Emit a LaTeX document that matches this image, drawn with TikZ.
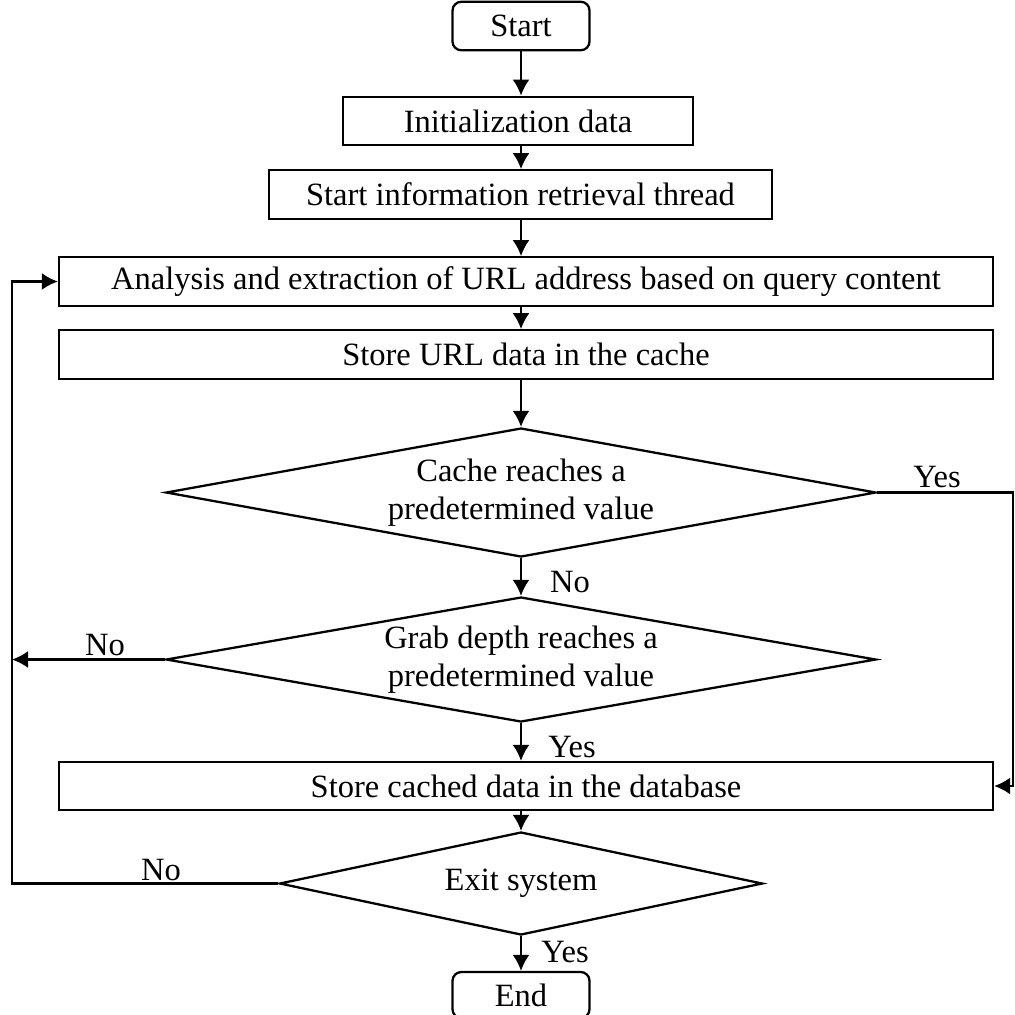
\documentclass[tikz,border=0pt]{standalone}
\usepackage{fontspec}
\setmainfont{Liberation Serif}
\usetikzlibrary{shapes.geometric,arrows.meta,positioning}

\begin{document}
\begin{tikzpicture}[line width=1.3pt,
    font=\fontsize{18.5}{22}\selectfont,
    >={Latex[length=3.2mm,width=3.4mm]},
    box/.style={draw,rectangle,inner sep=0pt,minimum height=0.97cm},
    term/.style={box,rounded corners=5pt,minimum width=2.74cm},
    decide/.style={draw,diamond,aspect=5.5,inner sep=0pt,align=center},
    lbl/.style={inner sep=0pt}]

\useasboundingbox (0,0) rectangle (20.30,-20.28);

% process boxes
\node[term] (start) at (10.42,-0.52) {Start};
\node[box,minimum width=7.00cm] (init) at (10.36,-2.42) {Initialization data};
\node[box,minimum width=10.06cm] (thread) at (10.41,-3.89) {Start information retrieval thread};
\node[box,minimum width=18.68cm] (analysis) at (10.52,-5.63) {Analysis and extraction of URL address based on query content};
\node[box,minimum width=18.68cm] (storeurl) at (10.52,-7.09) {Store URL data in the cache};

% decisions
\node[decide,minimum width=14.20cm,minimum height=2.58cm] (cache) at (10.42,-9.85)
  {Cache reaches a\\predetermined value};
\node[decide,minimum width=14.20cm,minimum height=2.50cm] (depth) at (10.42,-13.19)
  {Grab depth reaches a\\predetermined value};
\node[box,minimum width=18.68cm,minimum height=0.96cm] (storedb) at (10.52,-15.72) {Store cached data in the database};
\node[decide,aspect=4.7,minimum width=9.66cm,minimum height=2.06cm] (quit) at (10.42,-17.67) {Exit system};
\node[term,minimum height=0.92cm] (finish) at (10.42,-19.90) {End};

% side rails
\coordinate (lft) at (0.24,0);
\coordinate (rgt) at (20.26,0);

% main flow
\draw[->] (start.south) -- (start.south |- init.north);
\draw[->] (start.south |- init.south) -- (start.south |- thread.north);
\draw[->] (start.south |- thread.south) -- (start.south |- analysis.north);
\draw[->] (start.south |- analysis.south) -- (start.south |- storeurl.north);
\draw[->] (start.south |- storeurl.south) -- (cache.north);
\draw[->] (cache.south) -- (depth.north);
\draw[->] (depth.south) -- (depth.south |- storedb.north);
\draw[->] (depth.south |- storedb.south) -- (quit.north);
\draw[->] (quit.south) -- (finish.north);

% loops
\draw[->] (cache.east) -- (cache.east -| rgt) |- (storedb.east);
\draw[->] (depth.west) -- (depth.west -| lft);
\draw[->] (quit.west) -- (quit.west -| lft) |- (analysis.west);

% branch labels
\node[lbl] (yes1) at (18.74,-9.54) {Yes};
\node[lbl] (no1) at (11.40,-11.64) {No};
\node[lbl] (no2) at (2.10,-12.90) {No};
\node[lbl] (yes2) at (11.44,-14.94) {Yes};
\node[lbl] (no3) at (3.22,-17.40) {No};
\node[lbl] (yes3) at (11.30,-19.04) {Yes};

\end{tikzpicture}
\end{document}
